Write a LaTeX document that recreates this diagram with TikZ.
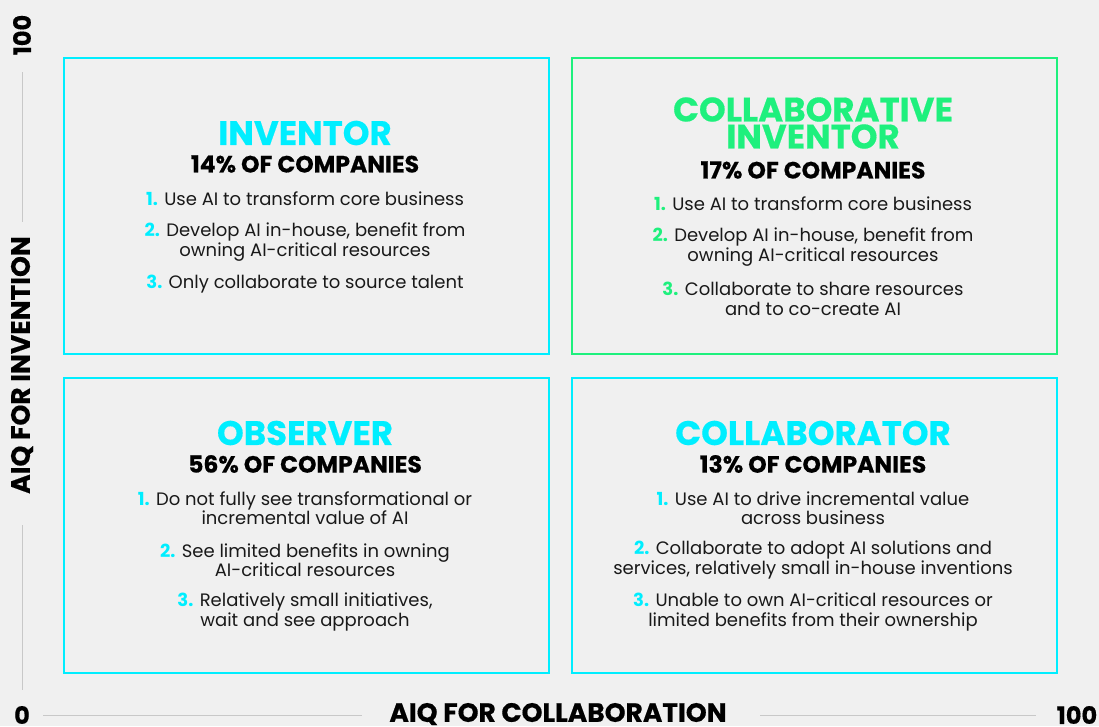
\documentclass[tikz,border=0pt]{standalone}
\usepackage{fontspec}
\setmainfont{Poppins}
\newfontfamily\heavyfont{Poppins}[BoldFeatures={FakeBold=0.5}]
\definecolor{bg}{RGB}{240,240,240}
\definecolor{cy}{RGB}{0,238,255}
\definecolor{gr}{RGB}{30,240,125}
\definecolor{ax}{RGB}{200,200,200}
\definecolor{tx}{RGB}{25,25,25}
\newcommand\itemnum[2]{\textcolor{#1}{\bfseries #2}}
\begin{document}
\begin{tikzpicture}[x=1pt,y=-1pt,
  title/.style={font=\fontsize{34}{27}\selectfont\heavyfont\bfseries, align=center, inner sep=0pt},
  share/.style={font=\fontsize{23.5}{24}\selectfont\heavyfont\bfseries, text=black, inner sep=0pt},
  body/.style={font=\fontsize{18}{19.5}\selectfont, align=center, text=tx, inner sep=0pt},
  quad/.style={draw, line width=2pt, minimum width=485, minimum height=296, anchor=north west},
  axlabel/.style={font=\fontsize{26.5}{26}\selectfont\heavyfont\bfseries, text=black, inner sep=0pt},
  axnum/.style={font=\fontsize{24}{26}\selectfont\heavyfont\bfseries, text=black, inner sep=0pt},
  axline/.style={draw=ax, line width=0.8pt}]
\useasboundingbox (0,0) rectangle (1099,726);
\fill[bg] (0,0) rectangle (1099,726);

% quadrants
\node[quad, draw=cy] (q1) at (63,57) {};
\node[quad, draw=gr] (q2) at (571,57) {};
\node[quad, draw=cy, minimum height=295] (q3) at (63,377) {};
\node[quad, draw=cy, minimum height=295] (q4) at (571,377) {};

% Inventor
\node[title, text=cy] (t1) at (305,133) {INVENTOR};
\node[share] (s1) at (305,164) {14\% OF COMPANIES};
\node[body] (a1) at (305,199) {\itemnum{cy}{1.} Use AI to transform core business};
\node[body] (b1) at (305,242) {\itemnum{cy}{2.} Develop AI in-house, benefit from\\owning AI-critical resources};
\node[body] (c1) at (305,284) {\itemnum{cy}{3.} Only collaborate to source talent};

% Collaborative inventor
\node[title, text=gr] (t2) at (813,123) {COLLABORATIVE\\INVENTOR};
\node[share] (s2) at (813,170) {17\% OF COMPANIES};
\node[body] (a2) at (813,204) {\itemnum{gr}{1.} Use AI to transform core business};
\node[body] (b2) at (813,247) {\itemnum{gr}{2.} Develop AI in-house, benefit from\\owning AI-critical resources};
\node[body] (c2) at (813,299) {\itemnum{gr}{3.} Collaborate to share resources\\and to co-create AI};

% Observer
\node[title, text=cy] (t3) at (305,433) {OBSERVER};
\node[share] (s3) at (305,464) {56\% OF COMPANIES};
\node[body] (a3) at (305,508) {\itemnum{cy}{1.} Do not fully see transformational or\\incremental value of AI};
\node[body] (b3) at (305,560) {\itemnum{cy}{2.} See limited benefits in owning\\AI-critical resources};
\node[body] (c3) at (305,612) {\itemnum{cy}{3.} Relatively small initiatives,\\wait and see approach};

% Collaborator
\node[title, text=cy] (t4) at (813,433) {COLLABORATOR};
\node[share] (s4) at (813,464) {13\% OF COMPANIES};
\node[body] (a4) at (813,508) {\itemnum{cy}{1.} Use AI to drive incremental value\\across business};
\node[body] (b4) at (813,560) {\itemnum{cy}{2.} Collaborate to adopt AI solutions and\\services, relatively small in-house inventions};
\node[body] (c4) at (813,612) {\itemnum{cy}{3.} Unable to own AI-critical resources or\\limited benefits from their ownership};

% axes
\node[axnum, rotate=90] (ytop) at (22,35) {100};
\node[axlabel, rotate=90] (ylab) at (22,365) {AIQ FOR INVENTION};
\node[axnum] (orig) at (22,715) {0};
\node[axlabel] (xlab) at (558,714) {AIQ FOR COLLABORATION};
\node[axnum] (xend) at (1077,715) {100};
\coordinate (yl1) at (22,72);
\coordinate (yl2) at (22,222);
\coordinate (yl3) at (22,525);
\coordinate (yl4) at (22,690);
\coordinate (xl1) at (43,715);
\coordinate (xl2) at (362,715);
\coordinate (xl3) at (760,715);
\coordinate (xl4) at (1036,715);
\draw[axline] (yl1) -- (yl2);
\draw[axline] (yl3) -- (yl4);
\draw[axline] (xl1) -- (xl2);
\draw[axline] (xl3) -- (xl4);
\end{tikzpicture}
\end{document}
